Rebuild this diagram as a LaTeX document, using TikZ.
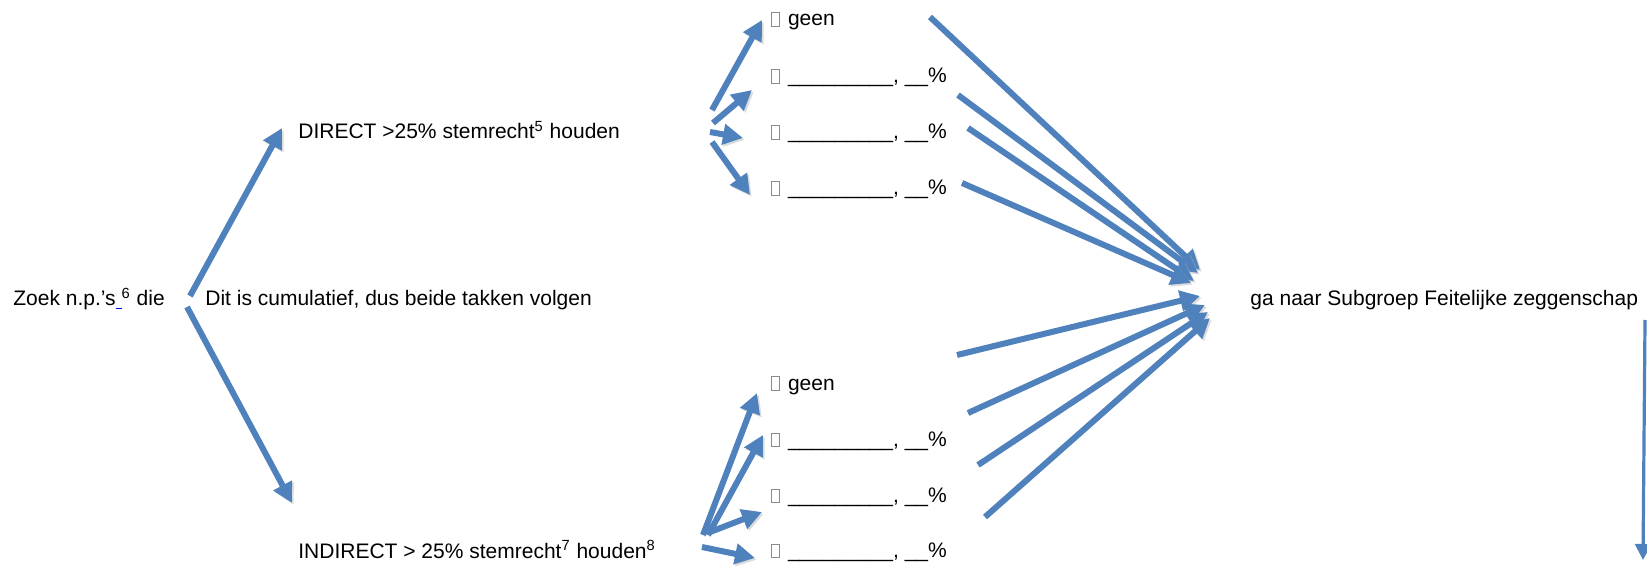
\documentclass[tikz,border=0pt]{standalone}
\usepackage{fontspec}
\setmainfont{Liberation Sans}
\usetikzlibrary{arrows.meta}
\definecolor{ablue}{RGB}{79,129,189}
\definecolor{linkblue}{RGB}{0,0,230}
\newcommand\cbox{\textcolor{black!45}{\fboxsep0pt\fboxrule0.45pt\fbox{\rule{0pt}{6.3pt}\hspace{3.4pt}}}\hspace{4pt}}
\newcommand\blank{\_\_\_\_\_\_\_\_\_, \_\_\%}
\begin{document}
\begin{tikzpicture}[x=0.5pt,y=-0.5pt,
  txt/.style={anchor=base west, inner sep=0pt, font=\fontsize{10.5}{12}\selectfont},
  arr/.style={draw=ablue, line width=3pt, line cap=butt,
    -{Triangle[length=10pt,width=10pt]},
    preaction={draw=black!30, opacity=0.45, transform canvas={shift={(0.9pt,-0.9pt)}}}},
  thinarr/.style={draw=ablue, line width=1.6pt,
    -{Triangle[length=8pt,width=8pt]}}]
\useasboundingbox[fill=white] (0,0) rectangle (1647,587);

% texts
\node[txt] (zoek) at (13,306) {Zoek n.p.’s\textcolor{linkblue}{\rule[-1.6pt]{3pt}{0.7pt}}\textsuperscript{6} die};
\node[txt] (cum) at (205,306) {Dit is cumulatief, dus beide takken volgen};
\node[txt] (direct) at (298,139) {DIRECT >25\% stemrecht\textsuperscript{5} houden};
\node[txt] (indirect) at (298,558) {INDIRECT > 25\% stemrecht\textsuperscript{7} houden\textsuperscript{8}};
\node[txt] (ga) at (1250,306) {ga naar Subgroep Feitelijke zeggenschap};

\node[txt] (t1) at (771,26) {\cbox geen};
\node[txt] (t2) at (771,83) {\cbox\blank};
\node[txt] (t3) at (771,139) {\cbox\blank};
\node[txt] (t4) at (771,195) {\cbox\blank};

\node[txt] (b1) at (771,390) {\cbox geen};
\node[txt] (b2) at (771,446) {\cbox\blank};
\node[txt] (b3) at (771,502) {\cbox\blank};
\node[txt] (b4) at (771,557) {\cbox\blank};

% arrow end points
\coordinate (lu1) at (190,296); \coordinate (lu2) at (282,128);
\coordinate (ld1) at (187,307); \coordinate (ld2) at (292,503);

\coordinate (a1) at (712,110); \coordinate (a2) at (762,20);
\coordinate (b1s) at (713,123); \coordinate (b1e) at (752,90);
\coordinate (c1) at (710,132); \coordinate (c2) at (743,138);
\coordinate (d1) at (712,142); \coordinate (d2) at (750,195);

\coordinate (e1) at (703,535); \coordinate (e2) at (757,393);
\coordinate (f1) at (708,535); \coordinate (f2) at (763,435);
\coordinate (g1) at (710,532); \coordinate (g2) at (762,512);
\coordinate (h1) at (702,547); \coordinate (h2) at (755,558);

\coordinate (i1) at (930,17);  \coordinate (i2) at (1200,270);
\coordinate (j1) at (958,95);  \coordinate (j2) at (1198,273);
\coordinate (k1) at (968,128); \coordinate (k2) at (1194,281);
\coordinate (l1) at (962,183); \coordinate (l2) at (1191,283);

\coordinate (m1) at (957,355); \coordinate (m2) at (1200,296);
\coordinate (n1) at (968,413); \coordinate (n2) at (1205,305);
\coordinate (o1) at (978,465); \coordinate (o2) at (1208,312);
\coordinate (p1) at (985,517); \coordinate (p2) at (1210,318);

\coordinate (v1) at (1645,320); \coordinate (v2) at (1643,560);

% arrows
\draw[arr] (lu1) -- (lu2);
\draw[arr] (ld1) -- (ld2);

\draw[arr] (a1) -- (a2);
\draw[arr] (b1s) -- (b1e);
\draw[arr] (c1) -- (c2);
\draw[arr] (d1) -- (d2);

\draw[arr] (e1) -- (e2);
\draw[arr] (f1) -- (f2);
\draw[arr] (g1) -- (g2);
\draw[arr] (h1) -- (h2);

\draw[arr] (i1) -- (i2);
\draw[arr] (j1) -- (j2);
\draw[arr] (k1) -- (k2);
\draw[arr] (l1) -- (l2);

\draw[arr] (m1) -- (m2);
\draw[arr] (n1) -- (n2);
\draw[arr] (o1) -- (o2);
\draw[arr] (p1) -- (p2);

\draw[thinarr] (v1) -- (v2);
\end{tikzpicture}
\end{document}
